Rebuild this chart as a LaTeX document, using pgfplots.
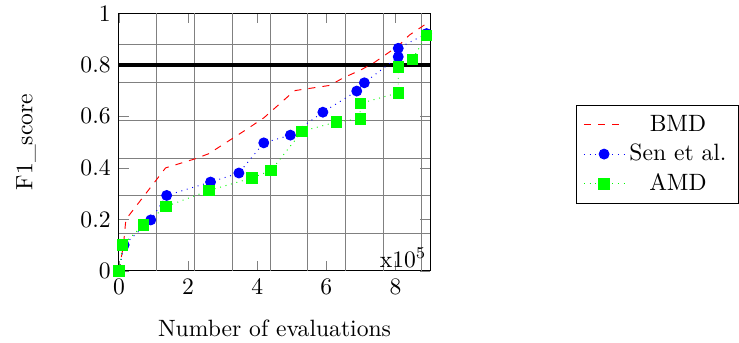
\documentclass[border=0pt]{standalone}
\usepackage{pgfplots}
\pgfplotsset{compat=1.18}
\begin{document}
\begin{tikzpicture}
\begin{axis}[
  name=ax,
  scale only axis,
  width=131.8pt, height=109.2pt,
  xmin=0, xmax=9, ymin=0, ymax=1,
  xtick={0,2,4,6,8},
  ytick={0,0.2,0.4,0.6,0.8,1},
  yticklabels={0,0.2,0.4,0.6,0.8,1},
  extra x ticks={1.093,2.186,3.279,4.372,5.465,6.558,7.651,8.744},
  extra x tick labels={},
  extra x tick style={grid=major, major tick length=0pt},
  extra y ticks={0.144,0.291,0.438,0.584,0.731,0.877},
  extra y tick labels={},
  extra y tick style={grid=major, major tick length=0pt},
  major grid style={gray, line width=0.45pt},
  xlabel={Number of evaluations},
  ylabel={F1\_score},
  xlabel style={at={(axis description cs:0.5,-0.2546)}, anchor=base},
  ylabel style={at={(axis description cs:-0.2785,0.5)}, anchor=base},
  legend style={at={(1.469,0.644)}, anchor=north west, draw=black},
  legend cell align=center,
]
\addplot[black, line width=1.6pt, forget plot] coordinates {(0,0.8) (9,0.8)};
\addplot[red, dashed] coordinates {
  (0,0) (0.13,0.10) (0.2,0.2) (1.35,0.40) (2.2,0.435) (2.6,0.455) (3.7,0.55)
  (4.2,0.595) (5.0,0.69) (5.1,0.70) (6.1,0.72) (6.5,0.75) (7.0,0.78)
  (7.4,0.81) (8.1,0.875) (8.4,0.915) (8.9,0.96)
};
\addlegendentry{BMD}
\addplot[blue, dotted, mark=*, mark size=2.1pt, mark options={solid, fill=blue}] coordinates {
  (0,0) (0.15,0.101) (0.92,0.198) (1.38,0.293) (2.65,0.345) (3.47,0.38)
  (4.19,0.497) (4.96,0.527) (5.90,0.616) (6.88,0.698) (7.10,0.730)
  (8.08,0.831) (8.08,0.864) (8.90,0.921)
};
\addlegendentry{Sen et al.}
\addplot[green, dotted, mark=square*, mark size=2.2pt, mark options={solid, fill=green}] coordinates {
  (0,0) (0.11,0.101) (0.71,0.179) (1.36,0.250) (2.60,0.312) (3.85,0.361)
  (4.40,0.390) (5.30,0.542) (6.29,0.578) (6.98,0.590) (6.98,0.650)
  (8.08,0.691) (8.08,0.791) (8.49,0.821) (8.90,0.914)
};
\addlegendentry{AMD}
\node[anchor=south east, inner sep=1.3pt] at (rel axis cs:1,0) {x$10^5$};
\end{axis}
\pgfresetboundingbox
\path ([shift={(-50.4pt,-30.5pt)}]ax.south west) rectangle ([shift={(130.9pt,5.6pt)}]ax.north east);
\end{tikzpicture}
\end{document}
